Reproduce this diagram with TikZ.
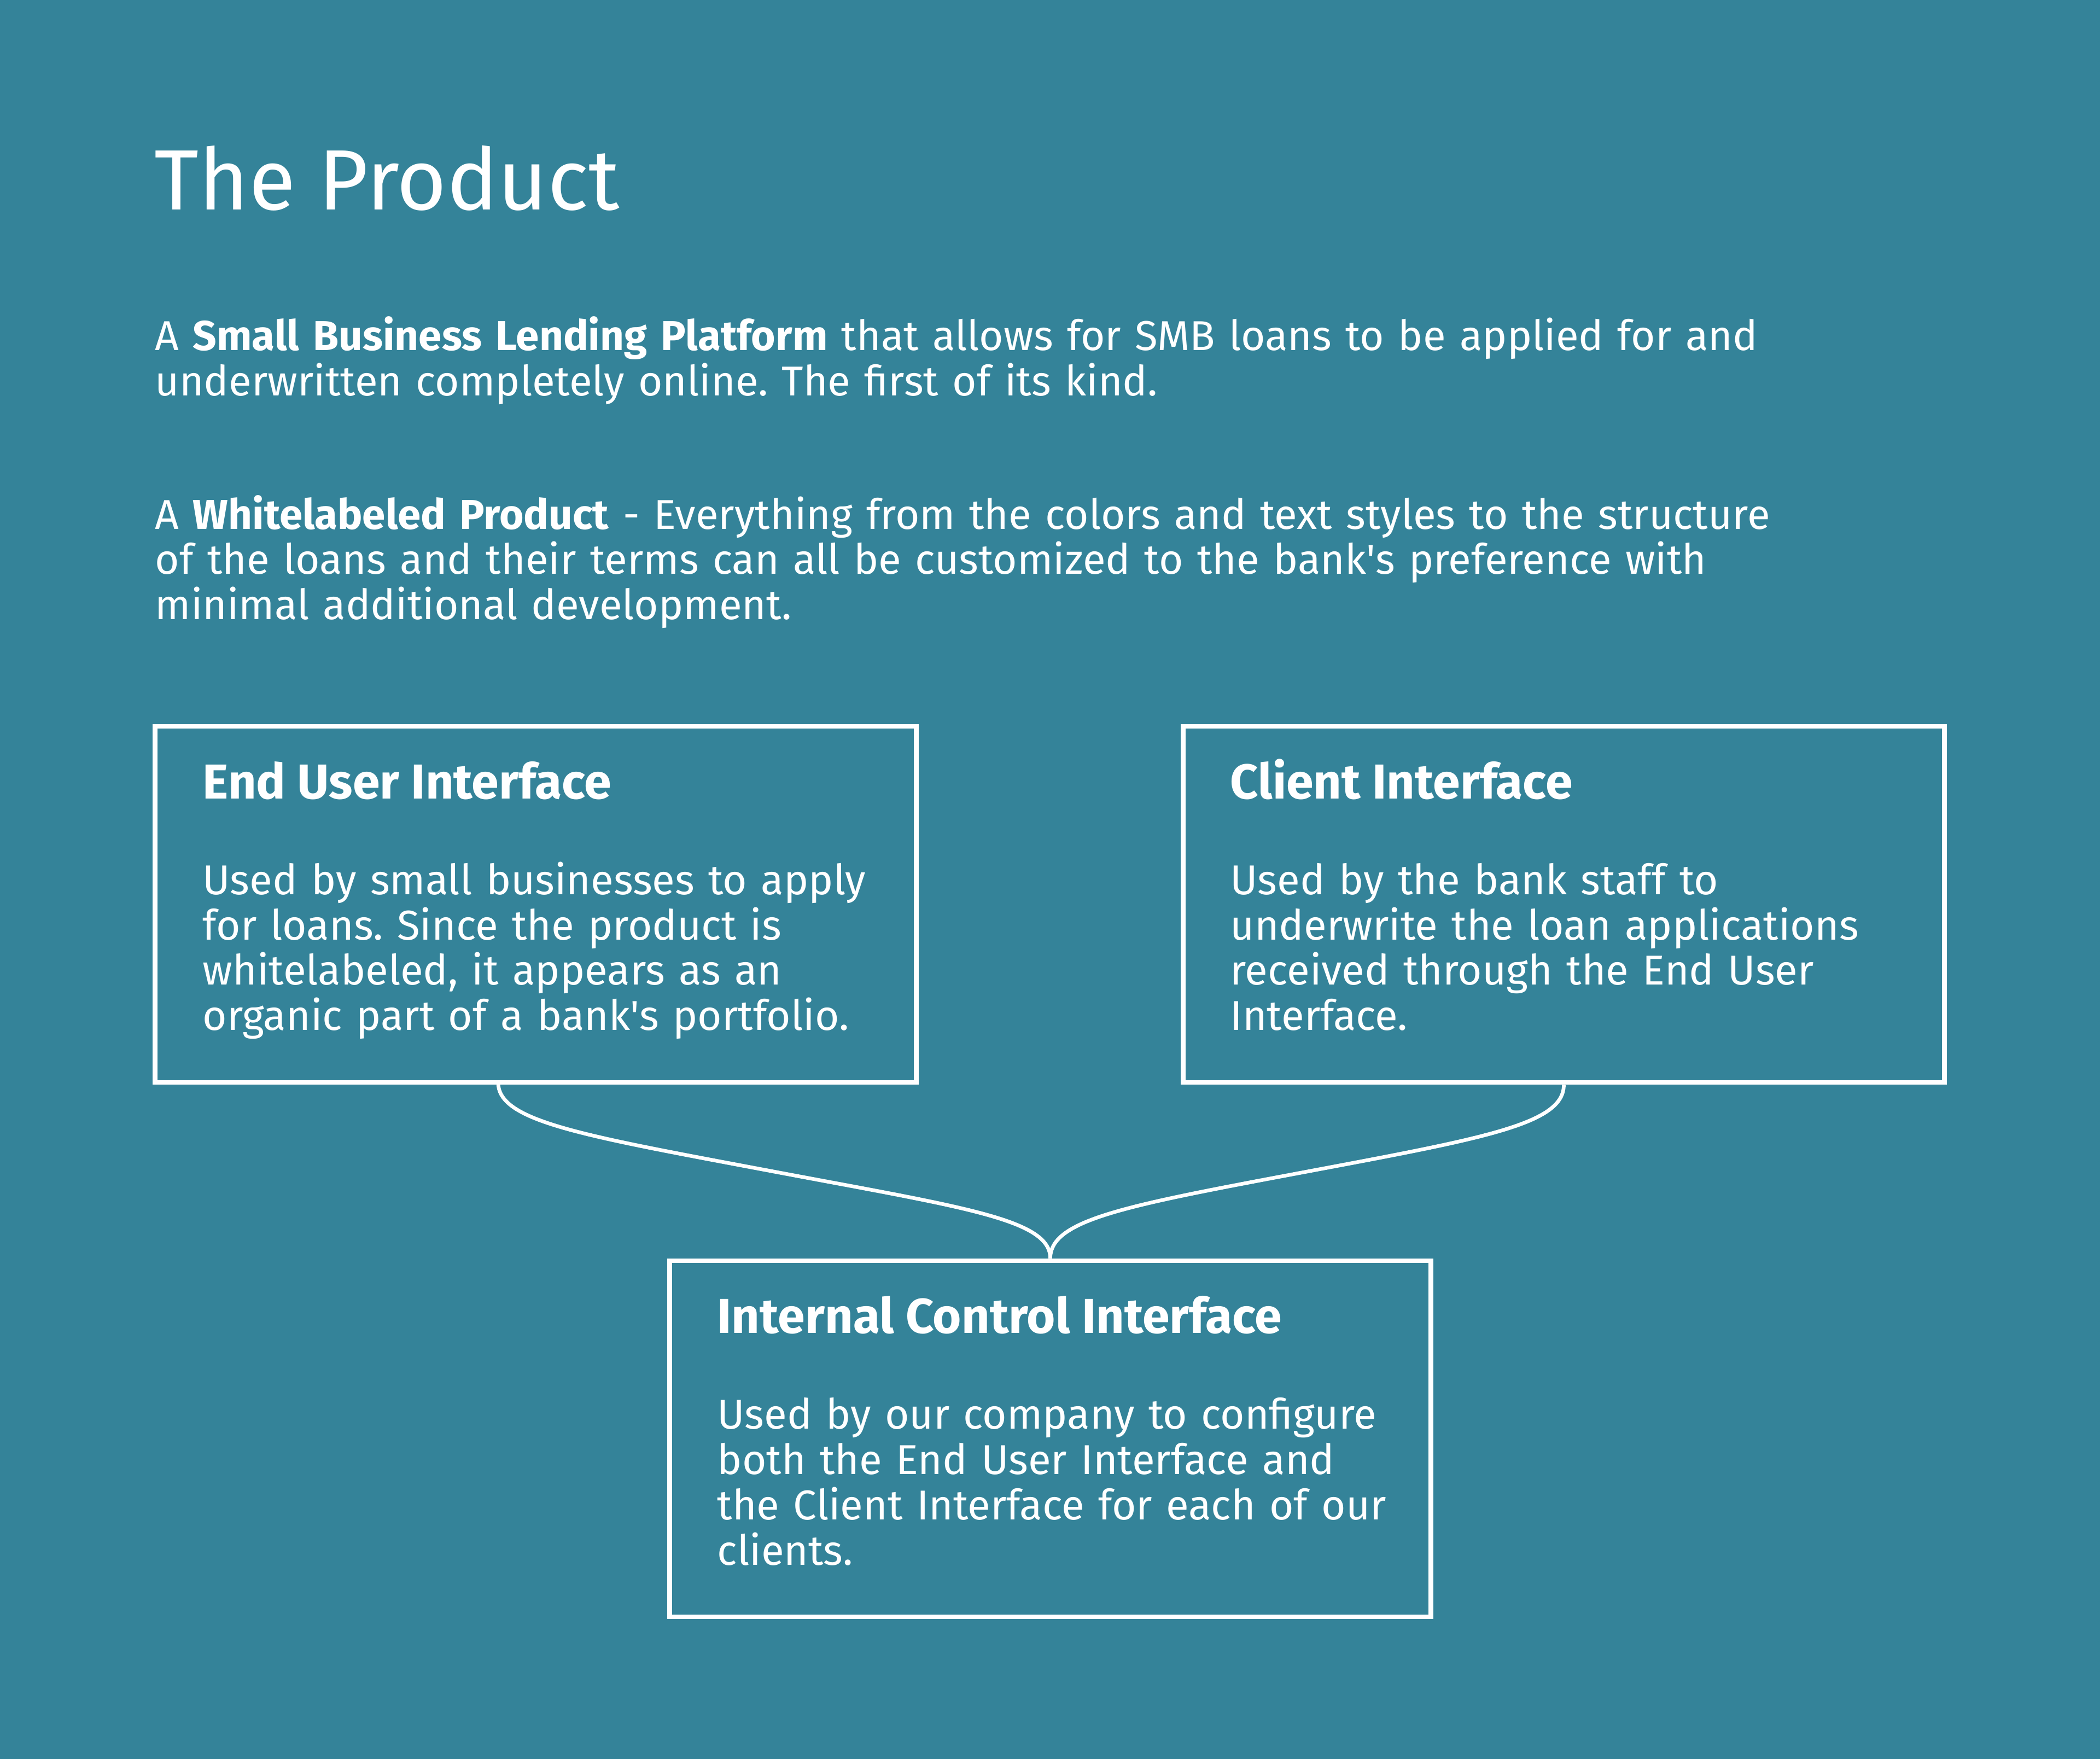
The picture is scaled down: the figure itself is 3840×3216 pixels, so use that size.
\documentclass[tikz,border=0pt]{standalone}
\usepackage{fontspec}
\setmainfont{Fira Sans}
\usepackage{tikz}
\definecolor{tealbg}{RGB}{52,131,153}
\frenchspacing

\begin{document}
\begin{tikzpicture}[x=0.01cm, y=-0.01cm,
    panel/.style={draw=white, line width=2.4pt, minimum width=13.91cm, minimum height=6.51cm, inner sep=0pt},
    head/.style={anchor=base west, inner sep=0pt, text=white, font=\bfseries\fontsize{25.5}{30}\selectfont},
    body/.style={anchor=base west, inner sep=0pt, text=white, align=left, text width=13cm, font=\fontsize{21.7}{23.6}\selectfont},
    link/.style={draw=white, line width=1.9pt}]
    % Background
    \fill[tealbg] (0,0) rectangle (3840,3216);

    % Title and intro
    \node[anchor=base west, inner sep=0pt, text=white, font=\fontsize{44.5}{53}\selectfont] (title) at (282,384) {The Product};
    \node[body, text width=34cm] (platform) at (283,641) {A \textbf{Small Business Lending Platform} that allows for SMB loans to be applied for and\\underwritten completely online. The first of its kind.};
    \node[body, text width=34cm] (whitelabel) at (283,967) {A \textbf{Whitelabeled Product} - Everything from the colors and text styles to the structure\\of the loans and their terms can all be customized to the bank\textquotesingle s preference with\\minimal additional development.};

    % Boxes
    \node[panel] (eui) at (979.5,1653.5) {};
    \node[panel] (ci) at (2859.5,1653.5) {};
    \node[panel] (ici) at (1920.5,2630.5) {};

    % Box texts
    \node[head] (euihead) at (370,1460) {End User Interface};
    \node[body] (euibody) at (370,1635) {Used by small businesses to apply\\for loans. Since the product is\\whitelabeled, it appears as an\\organic part of a bank\textquotesingle s portfolio.};
    \node[head] (cihead) at (2249,1460) {Client Interface};
    \node[body] (cibody) at (2249,1635) {Used by the bank staff to\\underwrite the loan applications\\received through the End User\\Interface.};
    \node[head] (icihead) at (1311,2437) {Internal Control Interface};
    \node[body] (icibody) at (1311,2612) {Used by our company to configure\\both the End User Interface and\\the Client Interface for each of our\\clients.};

    % Connectors
    \coordinate (euiout) at (911,1979.5);
    \coordinate (lmid) at (1415,2142);
    \coordinate (rmid) at (2390,2142);
    \draw[link] (euiout) .. controls +(0,71) and +(-350,-66) .. (lmid) .. controls +(350,66) and +(0,-71) .. (ici.north);
    \draw[link] (ci.south) .. controls +(0,71) and +(330,-62) .. (rmid) .. controls +(-330,62) and +(0,-71) .. (ici.north);
\end{tikzpicture}
\end{document}
